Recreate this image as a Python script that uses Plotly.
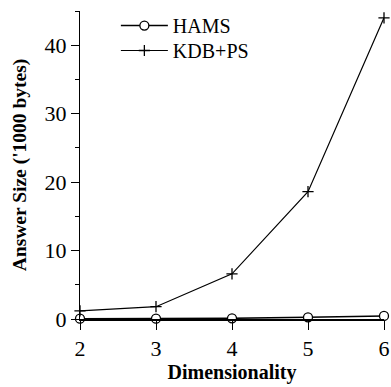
import plotly.graph_objects as go

dims = [2, 3, 4, 5, 6]
hams = [0.05, 0.05, 0.1, 0.25, 0.45]
kdb_ps = [1.2, 1.8, 6.6, 18.6, 44.0]

x_ticks = [2, 3, 4, 5, 6]
y_ticks = [0, 10, 20, 30, 40]

FONT = "Times New Roman"

fig = go.Figure()
fig.add_trace(go.Scatter(
    x=dims, y=hams, name="HAMS", mode="lines+markers",
    line=dict(color="black", width=1.5),
    marker=dict(symbol="circle", size=9, color="white",
                line=dict(color="black", width=1.3)),
    cliponaxis=False, legend="legend",
))
fig.add_trace(go.Scatter(
    x=dims, y=kdb_ps, name="KDB+PS", mode="lines+markers",
    line=dict(color="black", width=1.2),
    marker=dict(symbol="cross-thin", size=8, color="black",
                line=dict(color="black", width=1.3)),
    cliponaxis=False, legend="legend2",
))

leg_common = dict(xanchor="left", yanchor="top", bgcolor="rgba(0,0,0,0)",
                  font=dict(family=FONT, size=20, color="black"), itemwidth=47)

fig.update_layout(
    width=391, height=387,
    margin=dict(l=80, r=1, t=11, b=68),
    paper_bgcolor="white", plot_bgcolor="white",
    font=dict(family=FONT, color="black", size=21),
    showlegend=True,
    legend=dict(x=0.118, y=1.016, **leg_common),
    legend2=dict(x=0.118, y=0.935, **leg_common),
    xaxis=dict(
        range=[2, 6], tickvals=x_ticks, ticktext=[str(v) for v in x_ticks],
        showline=True, linecolor="black", linewidth=2,
        ticks="outside", ticklen=9, tickwidth=1.3, tickcolor="black",
        ticklabeloverflow="allow",
        showgrid=False, zeroline=False,
        title=dict(text="<b>Dimensionality</b>", font=dict(family=FONT, size=20), standoff=4),
        tickfont=dict(family=FONT, size=22),
    ),
    yaxis=dict(
        range=[0, 45], tickvals=y_ticks, ticktext=[str(v) for v in y_ticks],
        showline=True, linecolor="black", linewidth=1.3,
        ticks="outside", ticklen=8, tickwidth=1.3, tickcolor="black",
        minor=dict(dtick=5, ticks="outside", ticklen=4, tickwidth=1.3, tickcolor="black"),
        showgrid=False, zeroline=False,
        title=dict(text="<b>Answer Size ('1000 bytes)</b>", font=dict(family=FONT, size=19.5), standoff=12),
        tickfont=dict(family=FONT, size=22),
    ),
)

fig.write_html("out.html")
